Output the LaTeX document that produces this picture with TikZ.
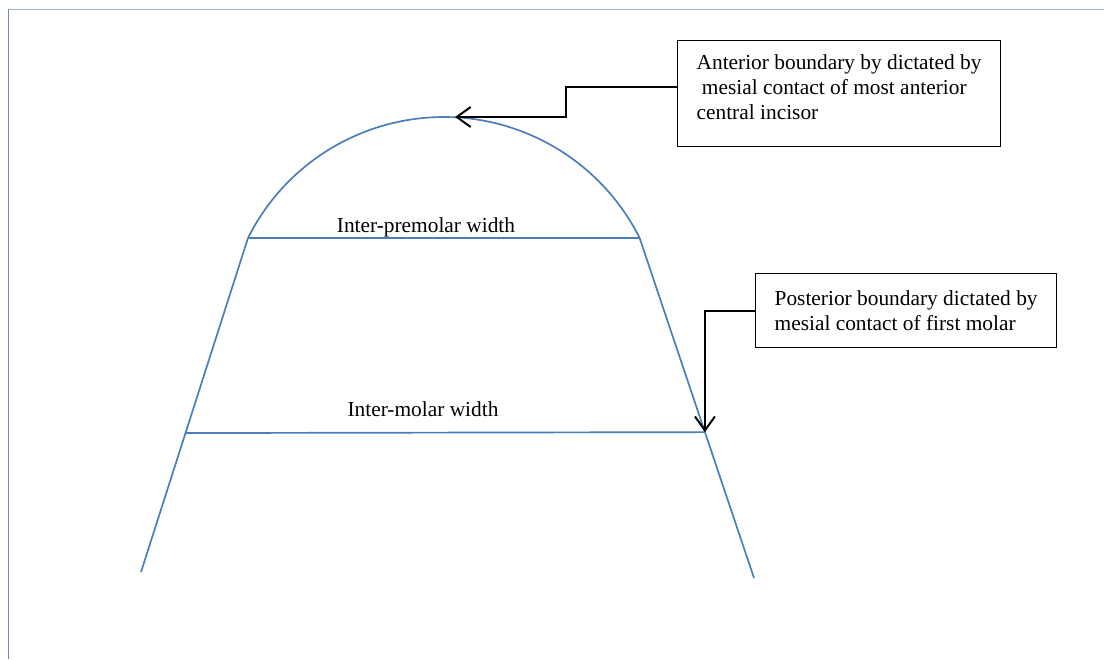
\documentclass[tikz,border=0pt]{standalone}
\usepackage{fontspec}
\setmainfont{Liberation Serif}
\usetikzlibrary{arrows.meta,calc}
\definecolor{archblue}{HTML}{4A7EBB}
\definecolor{frametop}{HTML}{A7B5D0}
\definecolor{frameleft}{HTML}{7487AC}
\tikzset{
	arch/.style = {draw=archblue, line width=1.2pt},
	callout/.style = {draw, line width=0.6pt, align=left, inner xsep=0.48cm, inner ysep=0.35cm, font=\fontsize{15.2}{17.8}\selectfont},
	pointer/.style = {line width=1.4pt, -{Straight Barb[length=0.35cm, width=0.5cm]}},
	widthlabel/.style = {anchor=base, font=\fontsize{15.2}{17.8}\selectfont}
}
\begin{document}
\begin{tikzpicture}[x=0.025cm, y=0.025cm]
	\useasboundingbox (0,0) rectangle (1104,659);
	% page frame
	\draw[frametop, line width=1.2pt] (8,649.5) -- (1104,649.5);
	\draw[frameleft, line width=1.2pt] (8.5,650) -- (8.5,0);

	% arch outline
	\coordinate (pmL) at (248,421);
	\coordinate (legL) at (141,87);
	\coordinate (legR) at (754,81);
	\coordinate (arctop) at (455,542);
	\draw[arch] (pmL) arc[start angle=153.4, end angle=26.6, radius=219] coordinate (pmR);
	\coordinate (mL) at ($(pmL)!0.584!(legL)$);
	\coordinate (mR) at ($(pmR)!0.571!(legR)$);
		\draw[arch] (pmL) -- (pmR);
		\draw[arch] (mL) -- (mR);
		\draw[arch] (pmL) -- (legL);
		\draw[arch] (pmR) -- (legR);

	% width labels
	\node[widthlabel] (premolar) at (426,426) {Inter-premolar width};
	\node[widthlabel] (molar) at (423,243) {Inter-molar width};

	% callouts
	\node[callout, anchor=north west] (anterior) at (677,619) {Anterior boundary by dictated by\\\hspace*{0.25em}mesial contact of most anterior\\central incisor\rule[-0.33cm]{0pt}{0pt}};
		\draw[pointer] ([yshift=0.15cm]anterior.west) -| ($([yshift=0.15cm]anterior.west)!0.5!(arctop)$) |- (arctop);
	\node[callout, anchor=north west, inner ysep=0.43cm] (posterior) at (755,386) {Posterior boundary dictated by\\mesial contact of first molar};
		\draw[pointer] (posterior.west) -| (mR);
\end{tikzpicture}
\end{document}
